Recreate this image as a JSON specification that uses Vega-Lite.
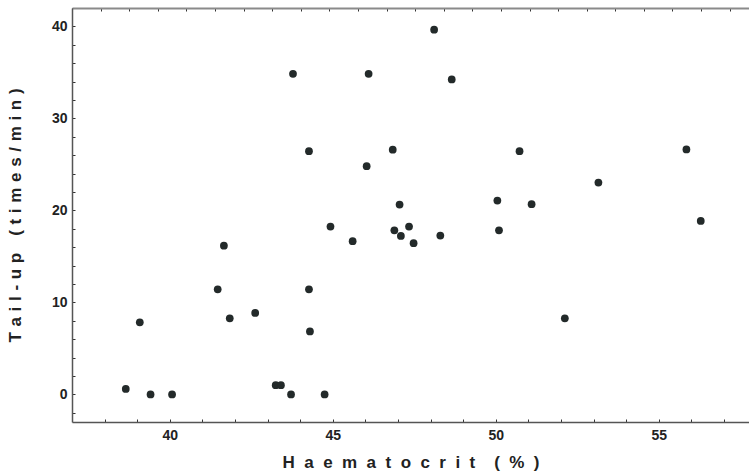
{
  "$schema": "https://vega.github.io/schema/vega-lite/v6.json",
  "width": 677,
  "height": 414,
  "autosize": {"type": "none"},
  "padding": {"left": 72, "top": 8, "right": 0, "bottom": 54},
  "background": "white",
  "config": {
    "view": {"stroke": null},
    "axis": {
      "grid": false,
      "labelFont": "Liberation Sans",
      "labelFontSize": 14,
      "labelFontWeight": "bold",
      "labelColor": "#222222",
      "titleFont": "Liberation Sans",
      "titleFontSize": 17,
      "titleFontWeight": "bold",
      "titleColor": "#222222",
      "domainColor": "#555555",
      "domainWidth": 1.5,
      "tickColor": "#333333",
      "tickSize": -3,
      "tickWidth": 1
    }
  },
  "data": {
    "values": [
      {"hct": 38.65, "tail": 0.6},
      {"hct": 39.08, "tail": 7.83},
      {"hct": 39.41, "tail": 0},
      {"hct": 40.07, "tail": 0},
      {"hct": 41.84, "tail": 8.27},
      {"hct": 41.47, "tail": 11.42},
      {"hct": 41.66, "tail": 16.17},
      {"hct": 42.62, "tail": 8.85},
      {"hct": 43.25, "tail": 1.0},
      {"hct": 43.41, "tail": 1.0},
      {"hct": 43.72, "tail": 0},
      {"hct": 43.78, "tail": 34.85},
      {"hct": 44.27, "tail": 26.44},
      {"hct": 44.27, "tail": 11.42},
      {"hct": 44.3, "tail": 6.85},
      {"hct": 44.75, "tail": 0},
      {"hct": 44.93, "tail": 18.24},
      {"hct": 45.61, "tail": 16.65},
      {"hct": 46.04, "tail": 24.8},
      {"hct": 46.1, "tail": 34.85},
      {"hct": 46.84, "tail": 26.6},
      {"hct": 46.89, "tail": 17.84},
      {"hct": 47.05, "tail": 20.63},
      {"hct": 47.09, "tail": 17.22},
      {"hct": 47.34, "tail": 18.24},
      {"hct": 47.48, "tail": 16.43},
      {"hct": 48.11, "tail": 39.64},
      {"hct": 48.3, "tail": 17.26},
      {"hct": 48.65, "tail": 34.23},
      {"hct": 50.05, "tail": 21.07},
      {"hct": 50.1, "tail": 17.84},
      {"hct": 50.73, "tail": 26.44},
      {"hct": 51.1, "tail": 20.67},
      {"hct": 52.12, "tail": 8.27},
      {"hct": 53.15, "tail": 23.03},
      {"hct": 55.85, "tail": 26.62},
      {"hct": 56.29, "tail": 18.86}
    ]
  },
  "layer": [
    {
      "mark": {"type": "circle", "size": 60, "color": "#232a2a", "opacity": 1},
      "encoding": {
        "x": {
          "field": "hct",
          "type": "quantitative",
          "scale": {"domain": [37, 57.77], "nice": false, "zero": false},
          "axis": {
            "orient": "bottom",
            "values": [38, 39, 40, 41, 42, 43, 44, 45, 46, 47, 48, 49, 50, 51, 52, 53, 54, 55, 56, 57],
            "labelExpr": "datum.value % 5 === 0 ? datum.label : ''",
            "labelPadding": 9,
            "title": "H\u00a0\u00a0a\u00a0\u00a0e\u00a0\u00a0m\u00a0\u00a0a\u00a0\u00a0t\u00a0\u00a0o\u00a0\u00a0c\u00a0\u00a0r\u00a0\u00a0i\u00a0\u00a0t\u00a0\u00a0\u00a0\u00a0(\u00a0\u00a0%\u00a0\u00a0)",
            "titlePadding": 12
          }
        },
        "y": {
          "field": "tail",
          "type": "quantitative",
          "scale": {"domain": [-3, 42], "nice": false, "zero": false},
          "axis": {
            "orient": "left",
            "values": [-2, 0, 2, 4, 6, 8, 10, 12, 14, 16, 18, 20, 22, 24, 26, 28, 30, 32, 34, 36, 38, 40],
            "labelExpr": "datum.value % 10 === 0 ? datum.label : ''",
            "labelPadding": 8,
            "title": "T\u2004a\u2004i\u2004l\u2004-\u2004u\u2004p\u2004\u2004\u2004(\u2004t\u2004i\u2004m\u2004e\u2004s\u2004/\u2004m\u2004i\u2004n\u2004)",
            "titlePadding": 27
          }
        }
      }
    },
    {
      "mark": {"type": "circle", "opacity": 0},
      "encoding": {
        "x": {
          "field": "hct",
          "type": "quantitative",
          "axis": {
            "orient": "top",
            "values": [37, 37.877, 38.755, 39.632, 40.509, 41.387, 42.264, 43.141, 44.018, 44.896, 45.773, 46.65, 47.528, 48.405, 49.282, 50.16, 51.037, 51.914, 52.791, 53.669, 54.546, 55.423, 56.301, 57.178],
            "labels": false,
            "title": null,
            "domainColor": "#8a8a8a",
            "domainWidth": 2
          }
        }
      }
    }
  ]
}
